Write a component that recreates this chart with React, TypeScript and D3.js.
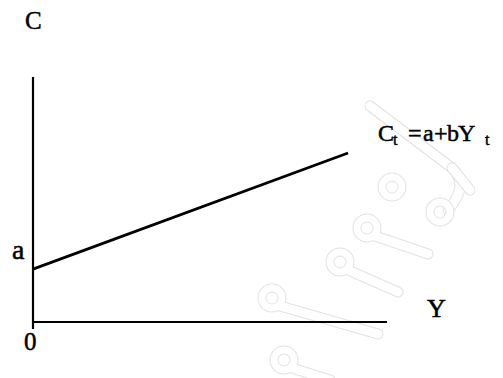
import React from 'react'
import * as d3 from 'd3'

const width = 503
const height = 378

// consumption function C = a + bY
const incomeValues = [0, 89]
const consumptionValues = [21.6, 69]
const domainMax = 100

const font = 'Liberation Serif, Times New Roman, DejaVu Serif, serif'

// faint watermark glyphs (loop + diagonal stroke), in page pixels
const watermarkGlyphs = [
  { cx: 392, cy: 187, path: 'M370,106 L452,168 Q470,185 448,210' },
  { cx: 440, cy: 212, path: 'M452,168 L470,190' },
  { cx: 367, cy: 228, path: 'M375,236 L428,254' },
  { cx: 340, cy: 262, path: 'M348,270 L398,292' },
  { cx: 272, cy: 298, path: 'M280,306 L378,334' },
  { cx: 284, cy: 360, path: 'M292,368 L330,380' },
]

function App() {
  const xScale = d3.scaleLinear().domain([0, domainMax]).range([33, 387])
  const yScale = d3.scaleLinear().domain([0, domainMax]).range([322, 77])

  const lineGen = d3
    .line<number>()
    .x((d, i) => xScale(incomeValues[i]))
    .y((d) => yScale(d))

  return (
    <svg
      width={width}
      height={height}
      style={{ position: 'absolute', left: 0, top: 0, background: 'white' }}
    >
      {/* watermark */}
      <g fill="none" strokeLinecap="round" strokeLinejoin="round">
        {watermarkGlyphs.map((g, i) => (
          <g key={i}>
            <path d={g.path} stroke="#e2e2e2" strokeWidth={11} />
            <circle cx={g.cx} cy={g.cy} r={10} stroke="#e2e2e2" strokeWidth={9} />
            <path d={g.path} stroke="white" strokeWidth={9} />
            <circle cx={g.cx} cy={g.cy} r={10} stroke="white" strokeWidth={7} />
          </g>
        ))}
      </g>

      {/* axes */}
      <line
        x1={xScale(0)}
        x2={xScale(0)}
        y1={yScale(domainMax)}
        y2={yScale(0) + 7}
        stroke="black"
        strokeWidth={2.2}
      />
      <line
        x1={xScale(0)}
        x2={xScale(domainMax)}
        y1={yScale(0)}
        y2={yScale(0)}
        stroke="black"
        strokeWidth={2.2}
      />

      {/* consumption line */}
      <path
        d={lineGen(consumptionValues) || ''}
        fill="none"
        stroke="black"
        strokeWidth={2.8}
      />

      {/* labels */}
      <g style={{ fontFamily: font }} fill="black" stroke="black" strokeWidth={0.5}>
        <text x={25} y={29} fontSize={25}>C</text>
        <text x={12} y={259} fontSize={28}>a</text>
        <text x={24} y={350} fontSize={25}>0</text>
        <text x={427} y={317} fontSize={26}>Y</text>
        <text y={141} fontSize={24}>
          <tspan x={378}>C</tspan>
          <tspan x={393} dy={4} fontSize={16}>t</tspan>
          <tspan x={408} dy={-4}>=</tspan>
          <tspan x={423}>a</tspan>
          <tspan x={434}>+</tspan>
          <tspan x={447}>b</tspan>
          <tspan x={458}>Y</tspan>
          <tspan x={485} dy={4} fontSize={16}>t</tspan>
        </text>
      </g>
    </svg>
  )
}

export default App
